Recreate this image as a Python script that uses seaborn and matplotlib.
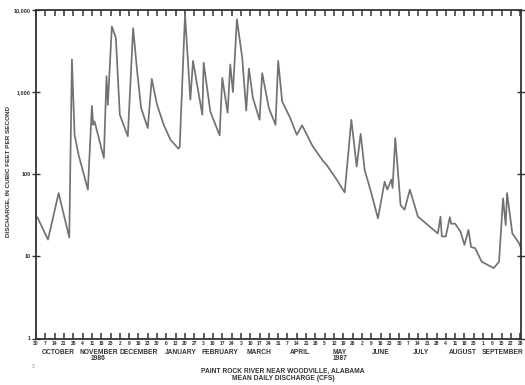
import matplotlib
matplotlib.use("Agg")
import matplotlib.pyplot as plt
import matplotlib.dates as mdates
import matplotlib.transforms as mtransforms
import numpy as np
import pandas as pd
import seaborn as sns

# Mean daily discharge, water year 1987 (turning points of the hydrograph)
dates = [
    "1986-10-01", "1986-10-09", "1986-10-17", "1986-10-25", "1986-10-27", "1986-10-29",
    "1986-11-01", "1986-11-08", "1986-11-11", "1986-11-12", "1986-11-13", "1986-11-20",
    "1986-11-22", "1986-11-23", "1986-11-26", "1986-11-29", "1986-12-02", "1986-12-08",
    "1986-12-12", "1986-12-15", "1986-12-18", "1986-12-23", "1986-12-26", "1986-12-30",
    "1987-01-04", "1987-01-09", "1987-01-15", "1987-01-16", "1987-01-20", "1987-01-24",
    "1987-01-26", "1987-02-02", "1987-02-03", "1987-02-08", "1987-02-15", "1987-02-17",
    "1987-02-21", "1987-02-23", "1987-02-25", "1987-02-28", "1987-03-04", "1987-03-07",
    "1987-03-09", "1987-03-12", "1987-03-17", "1987-03-19", "1987-03-24", "1987-03-29",
    "1987-03-31", "1987-04-03", "1987-04-09", "1987-04-14", "1987-04-18", "1987-04-26",
    "1987-05-04", "1987-05-06", "1987-05-14", "1987-05-20", "1987-05-25", "1987-05-29",
    "1987-06-01", "1987-06-04", "1987-06-09", "1987-06-14", "1987-06-19", "1987-06-21",
    "1987-06-24", "1987-06-25", "1987-06-27", "1987-07-01", "1987-07-04", "1987-07-08",
    "1987-07-14", "1987-07-23", "1987-07-29", "1987-07-31", "1987-08-01", "1987-08-04",
    "1987-08-07", "1987-08-08", "1987-08-11", "1987-08-15", "1987-08-18", "1987-08-21",
    "1987-08-23", "1987-08-26", "1987-08-31", "1987-09-09", "1987-09-13", "1987-09-16",
    "1987-09-18", "1987-09-19", "1987-09-23", "1987-09-28", "1987-09-30",
]
discharge = [
    30, 16, 59, 17, 2500, 300,
    172, 65, 680, 400, 440, 158,
    1560, 700, 6300, 4600, 530, 290,
    6000, 1800, 640, 365, 1450, 700,
    400, 264, 205, 215, 8800, 810,
    2400, 530, 2280, 580, 298, 1490,
    560, 2170, 1000, 7700, 2600, 595,
    1940, 850, 460, 1700, 640, 400,
    2400, 770, 485, 302, 394, 218,
    143, 133, 86, 60, 460, 124,
    310, 113, 59, 29, 81, 65,
    86, 68, 276, 42, 37, 65,
    30.5, 23, 19, 30.5, 17.5, 17.5,
    30, 25, 25, 20, 13.8, 21,
    13, 12.6, 8.6, 7.2, 8.6, 51,
    24, 59, 19, 14.5, 12,
]

y_ticks = [1, 10, 100, 1000, 10000]
y_tick_labels = ["1", "10", "100", "1,000", "10,000"]
month_names = ["OCTOBER", "NOVEMBER", "DECEMBER", "JANUARY", "FEBRUARY", "MARCH",
               "APRIL", "MAY", "JUNE", "JULY", "AUGUST", "SEPTEMBER"]
year_notes = {"NOVEMBER": "1986", "MAY": "1987"}
title_lines = ["PAINT ROCK RIVER NEAR WOODVILLE, ALABAMA", "MEAN DAILY DISCHARGE (CFS)"]
y_label = "DISCHARGE, IN CUBIC FEET PER SECOND"

df = pd.DataFrame({"date": pd.to_datetime(dates), "cfs": discharge})

sns.set_style("ticks")
plt.rcParams["font.family"] = ["Liberation Sans", "DejaVu Sans"]

fig = plt.figure(figsize=(5.25, 3.85), dpi=100)
ax = fig.add_axes([36 / 525, 1 - 338.5 / 385, (521 - 36) / 525, (338.5 - 10) / 385])

sns.lineplot(data=df, x="date", y="cfs", ax=ax, color="#727272", linewidth=1.25)

ax.set_yscale("log")
ax.set_ylim(1, 10000)
start = pd.Timestamp("1986-09-30")
end = pd.Timestamp("1987-09-29 12:00")
ax.set_xlim(start, end)

ax.set_yticks(y_ticks)
ax.set_yticklabels(y_tick_labels)
ax.yaxis.set_minor_locator(matplotlib.ticker.NullLocator())

week_ticks = pd.date_range(start, periods=53, freq="7D")
ax.set_xticks(week_ticks)
ax.set_xticklabels([str(d.day) for d in week_ticks])

for s in ax.spines.values():
    s.set_linewidth(1.3)
    s.set_color("#333333")

ax.tick_params(axis="x", direction="in", length=4, width=1.1, top=True,
               labelsize=3.6, pad=2, colors="#333333")
ax.tick_params(axis="y", direction="inout", length=6, width=1.0, right=True,
               labelsize=4, pad=1, colors="#333333")
for lbl in ax.get_xticklabels() + ax.get_yticklabels():
    lbl.set_fontweight("bold")

ax.set_xlabel("")
ax.set_ylabel("")
fig.text(8 / 525, 1 - 172 / 385, y_label, rotation=90, ha="center", va="center",
         fontsize=4.6, fontweight="bold", color="#333333")

# Month names centred under each month
trans = mtransforms.blended_transform_factory(ax.transData, fig.transFigure)
month_starts = pd.date_range("1986-10-01", periods=13, freq="MS")
for name, m0, m1 in zip(month_names, month_starts[:-1], month_starts[1:]):
    mid = m0 + (m1 - m0) / 2
    xm = mdates.date2num(min(mid, end - pd.Timedelta(days=9)))
    ax.text(xm, 1 - 352 / 385, name, transform=trans, ha="center", va="center",
            fontsize=4.8, fontweight="bold", color="#333333")
    if name in year_notes:
        ax.text(xm, 1 - 359 / 385, year_notes[name], transform=trans, ha="center",
                va="center", fontsize=4.8, fontweight="bold", color="#333333")

fig.text(283 / 525, 1 - 371 / 385, title_lines[0], ha="center", va="center",
         fontsize=4.8, fontweight="bold", color="#333333")
fig.text(283 / 525, 1 - 379 / 385, title_lines[1], ha="center", va="center",
         fontsize=4.8, fontweight="bold", color="#333333")
fig.text(33 / 525, 1 - 367 / 385, "3", ha="center", va="center",
         fontsize=3.5, color="#888888")

fig.savefig("out.png", dpi=100)
